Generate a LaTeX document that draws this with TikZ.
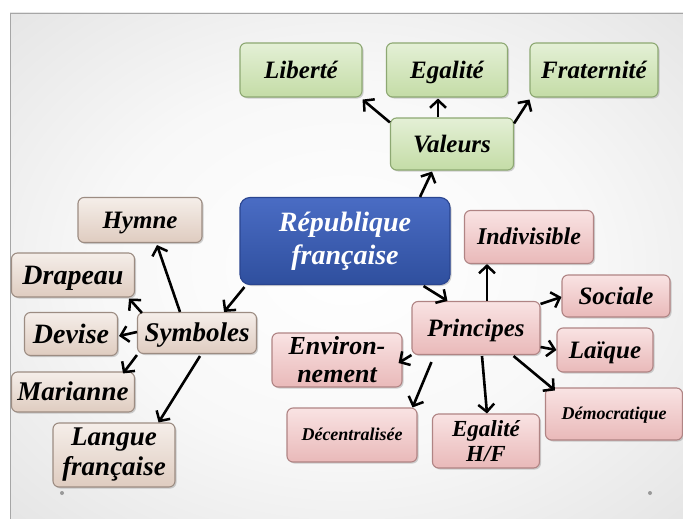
\documentclass[tikz,border=0pt]{standalone}
\usepackage{fontspec}
\setmainfont{Liberation Serif}
\usetikzlibrary{arrows.meta,shadows,calc}
\definecolor{grtop}{HTML}{E4F0D6}
\definecolor{grbot}{HTML}{C4DCA6}
\definecolor{grline}{HTML}{8DA872}
\definecolor{tntop}{HTML}{F5EEE9}
\definecolor{tnbot}{HTML}{DFCCC0}
\definecolor{tnline}{HTML}{9C8C82}
\definecolor{pktop}{HTML}{F9E3E3}
\definecolor{pkbot}{HTML}{E9B9B9}
\definecolor{pkline}{HTML}{B08484}
\definecolor{bltop}{HTML}{4A6CC4}
\definecolor{blbot}{HTML}{2F4F9E}
\definecolor{blline}{HTML}{2A4590}
\definecolor{bgmid}{HTML}{F8F8F8}
\definecolor{bgedge}{HTML}{D6D6D6}
\definecolor{bgcorner}{HTML}{C8C8C8}
\pgfdeclareradialshading{slidebg}{\pgfpoint{0bp}{0bp}}{color(0bp)=(white); color(18bp)=(bgmid); color(50bp)=(bgedge); color(72bp)=(bgcorner)}
\newcommand{\fsz}[1]{\fontsize{#1}{#1}\selectfont}
\tikzset{
  box/.style={rounded corners=6pt, line width=1.1pt, align=center, inner sep=2pt,
    text=black, drop shadow={shadow xshift=1.5pt, shadow yshift=-1.5pt, opacity=0.35}},
  fs/.style={font=\bfseries\itshape\fsz{#1}, text height={0.75*#1}, text depth={0.09*#1}},
  fm/.style 2 args={font=\bfseries\itshape\fontsize{#1}{#2}\selectfont},
  greenbox/.style={box, fs=25, draw=grline, top color=grtop, bottom color=grbot},
  tanbox/.style={box, fs=25, draw=tnline, top color=tntop, bottom color=tnbot},
  pinkbox/.style={box, fs=25, draw=pkline, top color=pktop, bottom color=pkbot},
  bluebox/.style={box, draw=blline, top color=bltop, bottom color=blbot, text=white,
    rounded corners=10pt, fm={28}{33}},
  conn/.style={line width=2.6pt, -{Straight Barb[length=7.5pt,width=16pt,line width=2.5pt]}},
  sz/.style 2 args={minimum width=#1, minimum height=#2}
}
\begin{document}
\begin{tikzpicture}[x=1pt,y=-1pt]
\useasboundingbox (0,0) rectangle (683,519);
\fill[white] (0,0) rectangle (683,519);
\shade[shading=slidebg] (10,13) rectangle (683,519);
\draw[gray!70, line width=0.8pt] (10,519) -- (10,13) -- (683,13);
\fill[gray!80] (62,493) circle (2);
\fill[gray!80] (650,493) circle (2);

% center
\node[bluebox, sz={210}{87}] (rep) at (345,241) {République\\française};

% valeurs
\node[greenbox, sz={123}{52}] (val) at (452,144) {Valeurs};
\node[greenbox, sz={122}{54}] (lib) at (301,70) {Liberté};
\node[greenbox, sz={121}{54}] (ega) at (447,70) {Egalité};
\node[greenbox, sz={128}{54}] (fra) at (594,70) {Fraternité};

% symboles
\node[tanbox, sz={119}{41}, fs=27] (sym) at (197,333) {Symboles};
\node[tanbox, sz={124}{45}] (hym) at (140,220) {Hymne};
\node[tanbox, sz={123}{44}, fs=28] (dra) at (73,275) {Drapeau};
\node[tanbox, sz={93}{43}, fs=28] (dev) at (71,334) {Devise};
\node[tanbox, sz={123}{40}, fs=27] (mar) at (73,392) {Marianne};
\node[tanbox, sz={122}{64}, text height=, text depth=, fm={27}{30}] (lan) at (114,455) {Langue\\française};

% principes
\node[pinkbox, sz={128}{53}] (pri) at (476,328) {Principes};
\node[pinkbox, sz={129}{53}, fs=24] (ind) at (529,237) {Indivisible};
\node[pinkbox, sz={108}{42}] (soc) at (616,296) {Sociale};
\node[pinkbox, sz={96}{44}] (lai) at (605,350) {Laïque};
\node[pinkbox, sz={137}{52}, fs=18] (dem) at (614,414) {Démocratique};
\node[pinkbox, sz={107}{54}, text height=, text depth=, fm={23}{25}] (egh) at (486,441) {Egalité\\H/F};
\node[pinkbox, sz={130}{54}, fs=18] (dec) at (352,435) {Décentralisée};
\node[pinkbox, sz={130}{54}, text height=, text depth=, fm={26}{28}] (env) at (337,360) {Environ-\\nement};

% connectors
\draw[conn] ($(rep.north)+(75,0)$) -- ($(val.south)+(-20,1)$);
\draw[conn] ($(val.north west)+(0,5)$) -- ($(lib.south east)+(0,2)$);
\draw[conn] ($(val.north)+(-14,0)$) -- ($(ega.south)+(-9,1)$);
\draw[conn] ($(val.north east)+(0,6)$) -- ($(fra.south west)+(0,2)$);

\draw[conn] ($(rep.south west)+(5,2)$) -- ($(sym.north east)+(-33,0)$);
\draw[conn] ($(sym.north)+(-17,0)$) -- ($(hym.south)+(17,2)$);
\draw[conn] ($(sym.north west)+(5,1)$) -- ($(dra.south east)+(-6,1)$);
\draw[conn] ($(sym.west)+(0,-1)$) -- ($(dev.east)+(1,2)$);
\draw[conn] ($(sym.south west)+(0,1)$) -- ($(mar.north east)+(-12,2)$);
\draw[conn] ($(sym.south)+(3,2)$) -- ($(lan.north east)+(-17,0)$);

\draw[conn] ($(rep.south east)+(-27,1)$) -- ($(pri.north west)+(36,0)$);
\draw[conn] ($(pri.north)+(11,0)$) -- ($(ind.south)+(-42,0)$);
\draw[conn] ($(pri.north east)+(0,3)$) -- ($(soc.west)+(0,1)$);
\draw[conn] ($(pri.east)+(0,19)$) -- (lai.west);
\draw[conn] ($(pri.south east)+(-27,1)$) -- ($(dem.north west)+(10,3)$);
\draw[conn] ($(pri.south)+(6,1)$) -- ($(egh.north)+(1,0)$);
\draw[conn] ($(pri.south west)+(20,7)$) -- ($(dec.north east)+(-5,0)$);
\draw[conn] (pri.south west) -- ($(env.east)+(-4,3)$);
\end{tikzpicture}
\end{document}
